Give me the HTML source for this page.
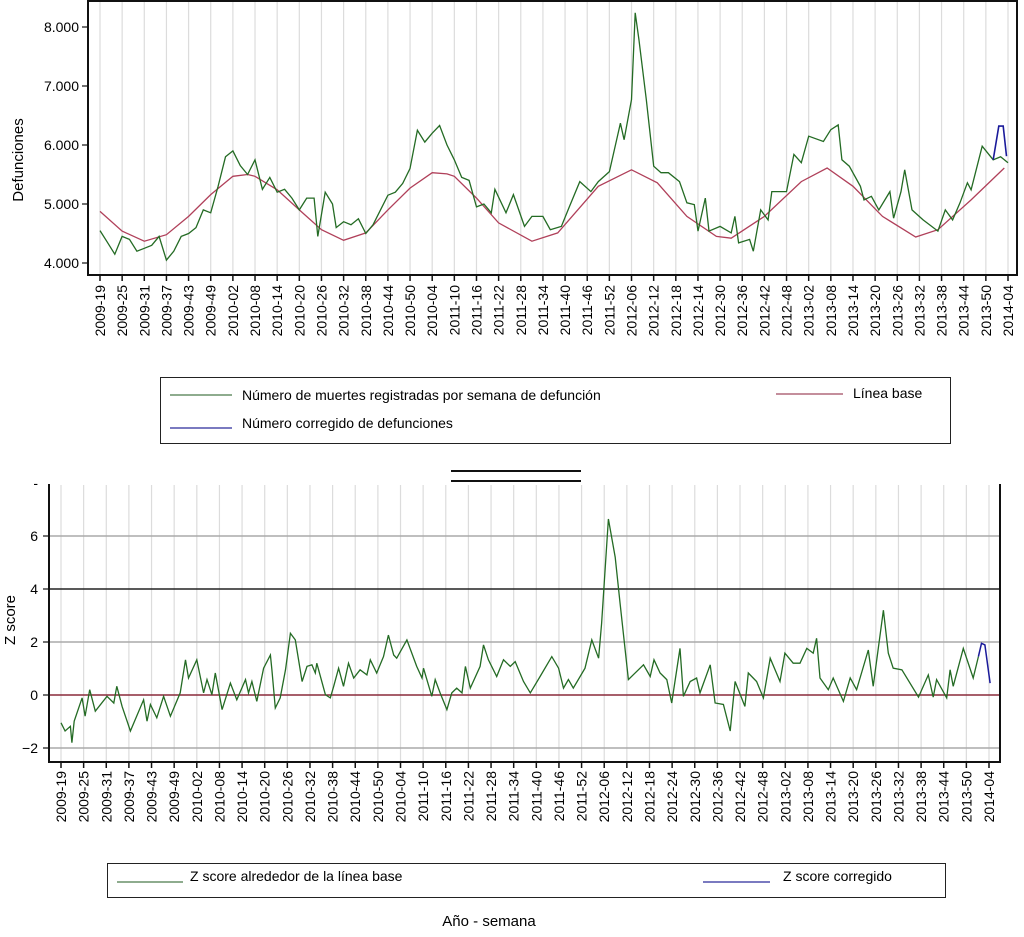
<!DOCTYPE html>
<html><head><meta charset="utf-8"><style>
html,body{margin:0;padding:0;background:#fff}
svg{display:block;font-family:"Liberation Sans",sans-serif}
</style></head><body>
<svg id="c" width="1024" height="937" viewBox="0 0 1024 937" xmlns="http://www.w3.org/2000/svg">
<g>
<rect x="160.5" y="377.5" width="790" height="66" fill="#fff" stroke="#222" stroke-width="1"/>
<line x1="170" y1="395" x2="232" y2="395" stroke="#4a7a4a" stroke-width="1.3"/>
<text x="242" y="400" font-size="14">Número de muertes registradas por semana de defunción</text>
<line x1="776" y1="394" x2="843" y2="394" stroke="#a04a60" stroke-width="1.3"/>
<text x="853" y="398" font-size="14">Línea base</text>
<line x1="170" y1="428" x2="232" y2="428" stroke="#2a2a9a" stroke-width="1.3"/>
<text x="242" y="428" font-size="14">Número corregido de defunciones</text>
</g>
<g>
<line x1="451" y1="471" x2="581" y2="471" stroke="#111" stroke-width="2"/>
<line x1="451" y1="481" x2="581" y2="481" stroke="#111" stroke-width="2"/>
</g>
<g>
<rect x="107.5" y="863.5" width="838" height="34" fill="#fff" stroke="#222" stroke-width="1"/>
<line x1="117" y1="882" x2="183" y2="882" stroke="#4a7a4a" stroke-width="1.3"/>
<text x="190" y="881" font-size="14">Z score alrededor de la línea base</text>
<line x1="703" y1="882" x2="770" y2="882" stroke="#2a2a9a" stroke-width="1.3"/>
<text x="783" y="881" font-size="14">Z score corregido</text>
</g>
<text x="489" y="926" font-size="15" text-anchor="middle">Año - semana</text>
</svg>
<script>
const tickLabels=["2009-19","2009-25","2009-31","2009-37","2009-43","2009-49","2010-02","2010-08","2010-14","2010-20","2010-26","2010-32","2010-38","2010-44","2010-50","2010-04","2011-10","2011-16","2011-22","2011-28","2011-34","2011-40","2011-46","2011-52","2012-06","2012-12","2012-18","2012-14","2012-30","2012-36","2012-42","2012-48","2013-02","2013-08","2013-14","2013-20","2013-26","2013-32","2013-38","2013-44","2013-50","2014-04"];
const botTickLabels=["2009-19","2009-25","2009-31","2009-37","2009-43","2009-49","2010-02","2010-08","2010-14","2010-20","2010-26","2010-32","2010-38","2010-44","2010-50","2010-04","2011-10","2011-16","2011-22","2011-28","2011-34","2011-40","2011-46","2011-52","2012-06","2012-12","2012-18","2012-24","2012-30","2012-36","2012-42","2012-48","2013-02","2013-08","2013-14","2013-20","2013-26","2013-32","2013-38","2013-44","2013-50","2014-04"];
const topYTicks=[4000,5000,6000,7000,8000];
const topYLabels=["4.000","5.000","6.000","7.000","8.000"];
const deathWeeks=[0,2,4,6,8,10,12,14,16,18,20,22,24,26,28,30,32,34,36,38,40,42,44,46,48,50,52,54,56,58,59,61,63,64,66,68,70,72,74,76,78,80,82,84,86,88,90,92,94,96,98,100,102,104,106,107,110,112,115,117,120,122,125,127,130,133,135,138,141,142,144,145,146,148,150,152,154,157,159,161,162,164,165,168,171,172,173,176,177,179,181,182,186,188,190,192,196,198,200,201,203,206,207,209,211,214,215,217,218,220,223,227,229,231,233,235,236,239,242,244,246];
const deathValues=[4550,4350,4150,4450,4400,4200,4250,4300,4450,4050,4200,4450,4500,4600,4900,4850,5300,5800,5900,5650,5500,5750,5250,5450,5200,5250,5100,4900,5100,5100,4450,5200,5000,4600,4700,4650,4750,4500,4650,4900,5150,5200,5350,5600,6250,6050,6200,6330,6000,5750,5450,5400,4950,5000,4850,5250,4850,5160,4620,4790,4790,4565,4620,4930,5380,5210,5380,5550,6370,6090,6770,8240,7790,6770,5640,5530,5530,5380,5020,4990,4540,5100,4540,4620,4510,4790,4340,4400,4200,4900,4730,5210,5210,5840,5700,6150,6060,6260,6340,5750,5640,5300,5070,5130,4900,5210,4760,5210,5580,4900,4730,4540,4900,4730,5020,5360,5240,5980,5750,5800,5700];
const correctedWeeks=[242,243.5,244.7,245.6];
const correctedValues=[5750,6320,6320,5810];
const baseWeeks=[0,6,12,18,24,30,36,40,42,48,54,60,66,72,78,84,90,94,96,102,108,117,124,135,144,151,159,167,171,180,190,197,204,212,221,227,236,245];
const baseValues=[4875,4540,4370,4480,4790,5160,5470,5500,5470,5240,4900,4565,4385,4510,4900,5270,5530,5510,5470,5100,4680,4370,4510,5300,5580,5360,4790,4450,4420,4790,5380,5610,5300,4790,4440,4565,5070,5610];
const zTicks=[-2,0,2,4,6];
const zWeeks=[0,1.1,2.5,2.9,3.5,5.6,6.4,7.6,9.1,12.2,14,14.8,16.2,18.4,21.9,22.8,23.7,25.4,27.2,29,31.6,33,33.8,36,37.8,38.7,40,40.9,42.7,44.9,46.6,48.9,49.7,50.6,51.9,53.7,55.5,55.9,56.8,58.1,59.5,60.8,62.1,63.9,65.2,66.5,67.4,67.8,70.1,71.4,72.3,73.6,74.9,76.2,77.6,79.3,81.1,82,83.7,85.5,86.8,88.2,89,91.7,94.3,95.7,96.1,98.3,99.2,100.5,102.3,103.6,104.9,106.3,107.2,108.5,111.1,112,113.3,115.5,117.3,119.1,120.4,122.6,124.4,127,130.1,131.9,133.2,134.5,135.8,138.9,140.7,142.5,143.3,145.1,146.9,148.2,150.4,154.4,156.2,157.2,158.8,160.6,161.9,164.1,165,166.8,168.5,169.4,172.1,173.4,175.6,177.4,178.7,181.3,182.2,184.4,186.2,188,190.6,191.9,194.1,195.9,197.7,199.4,200.3,201.2,203.4,204.7,207.4,209.2,210.9,214,215.3,218,219.3,220.6,222.9,227.3,229.9,231.2,232.1,234.8,235.7,236.5,239.2,241.8,243.2];
const zValues=[-1.05,-1.36,-1.18,-1.8,-0.99,-0.11,-0.8,0.2,-0.61,-0.05,-0.3,0.33,-0.43,-1.36,-0.18,-0.99,-0.36,-0.86,-0.05,-0.8,0.08,1.33,0.64,1.33,0.08,0.58,0.01,0.83,-0.55,0.45,-0.18,0.58,0.08,0.51,-0.24,1.01,1.51,0.95,-0.49,-0.11,0.95,2.33,2.08,0.51,1.08,1.14,0.83,1.2,0.01,-0.11,0.33,1.01,0.33,1.2,0.64,0.95,0.76,1.33,0.83,1.45,2.26,1.51,1.39,2.08,1.08,0.64,1.01,-0.05,0.58,0.08,-0.55,0.08,0.26,0.08,1.08,0.26,1.08,1.89,1.33,0.7,1.33,1.08,1.26,0.51,0.08,0.7,1.45,1.01,0.26,0.58,0.26,1.01,2.08,1.39,2.7,6.64,5.2,3.45,0.58,1.14,0.7,1.33,0.83,0.58,-0.3,1.76,-0.05,0.51,0.64,0.08,1.14,-0.3,-0.36,-1.36,0.51,-0.43,0.83,0.51,-0.11,1.39,0.51,1.58,1.2,1.2,1.76,1.58,2.14,0.64,0.2,0.64,-0.24,0.64,0.2,1.7,0.33,3.2,1.58,1.01,0.95,-0.08,0.76,-0.08,0.58,-0.11,0.95,0.33,1.76,0.64,1.45];
const zCorrWeeks=[243.2,244,244.9,246.3];
const zCorrValues=[1.45,1.95,1.89,0.45];

const NS="http://www.w3.org/2000/svg";
const svg=document.getElementById('c');
function mk(tag,attrs,parent){const e=document.createElementNS(NS,tag);for(const k in attrs)e.setAttribute(k,attrs[k]);(parent||svg).appendChild(e);return e;}
const xTop=w=>100+w*(908/246);
const yTop=v=>263-(v-4000)*0.059;
const xBot=w=>61+w*(928/246);
const yBot=z=>695-z*26.5;
function pts(ws,vs,fx,fy){return ws.map((w,i)=>fx(w).toFixed(1)+','+fy(vs[i]).toFixed(1)).join(' ');}

// TOP CHART
const gT=mk('g',{});


tickLabels.forEach((t,i)=>{
  const x=xTop(i*6);
  const gl=mk('line',{x1:x,y1:1,x2:x,y2:275,stroke:'#dcdcdc','stroke-width':1.2},gT);
  
  
  mk('line',{x1:x,y1:275,x2:x,y2:281,stroke:'#111','stroke-width':1.5},gT);
  const tx=mk('text',{x:0,y:0,'font-size':14,'text-anchor':'end',transform:`translate(${x+5},285) rotate(-90)`},gT);
  tx.textContent=t;
  
  
});
topYTicks.forEach((v,i)=>{
  const y=yTop(v);
  mk('line',{x1:82,y1:y,x2:88,y2:y,stroke:'#111','stroke-width':1.2},gT);
  const tx=mk('text',{x:79,y:y+5,'font-size':14,'text-anchor':'end'},gT);
  tx.textContent=topYLabels[i];
  
  
});
const yt=mk('text',{x:0,y:0,'font-size':15,'text-anchor':'middle',transform:'translate(23,160) rotate(-90)'},gT);
yt.textContent='Defunciones';


const bl=mk('polyline',{points:pts(baseWeeks,baseValues,xTop,yTop),fill:'none',stroke:'#b0405a','stroke-width':1.3},gT);


const dl=mk('polyline',{points:pts(deathWeeks,deathValues,xTop,yTop),fill:'none',stroke:'#246b24','stroke-width':1.3},gT);


const cl=mk('polyline',{points:pts(correctedWeeks,correctedValues,xTop,yTop),fill:'none',stroke:'#1a1a9a','stroke-width':1.6},gT);


const fr=mk('rect',{x:88,y:1,width:929,height:274,fill:'none',stroke:'#111','stroke-width':2},gT);



// BOTTOM CHART
const gB=mk('g',{});


botTickLabels.forEach((t,i)=>{
  const x=xBot(i*6);
  const gl=mk('line',{x1:x,y1:485,x2:x,y2:762,stroke:'#dcdcdc','stroke-width':1.2},gB);
  
  
  mk('line',{x1:x,y1:762,x2:x,y2:768,stroke:'#111','stroke-width':1.5},gB);
  const tx=mk('text',{x:0,y:0,'font-size':14,'text-anchor':'end',transform:`translate(${x+5},771) rotate(-90)`},gB);
  tx.textContent=t;
  
  
});
zTicks.forEach(z=>{
  const y=yBot(z);
  const col=z===4?'#222':(z===0?'#8a2a3a':'#aaa');
  const hl=mk('line',{x1:49,y1:y,x2:1000,y2:y,stroke:col,'stroke-width':z===0?1.5:1.5},gB);
  
  
  mk('line',{x1:43,y1:y,x2:49,y2:y,stroke:'#111','stroke-width':1.2},gB);
  const tx=mk('text',{x:38,y:y+5,'font-size':14,'text-anchor':'end'},gB);
  tx.textContent=z<0?'\u2212'+Math.abs(z):String(z);
  
  
});
const dash=mk('text',{x:38,y:488,'font-size':14,'text-anchor':'end'},gB);
dash.textContent='-';


const zt=mk('text',{x:0,y:0,'font-size':15,'text-anchor':'middle',transform:'translate(15,620) rotate(-90)'},gB);
zt.textContent='Z score';


const zl=mk('polyline',{points:pts(zWeeks,zValues,xBot,yBot),fill:'none',stroke:'#246b24','stroke-width':1.3},gB);


const zc=mk('polyline',{points:pts(zCorrWeeks,zCorrValues,xBot,yBot),fill:'none',stroke:'#1a1a9a','stroke-width':1.5},gB);


const ax=mk('polyline',{points:'49,484 49,762 1000,762 1000,484',fill:'none',stroke:'#111','stroke-width':2},gB);


</script>
</body></html>
